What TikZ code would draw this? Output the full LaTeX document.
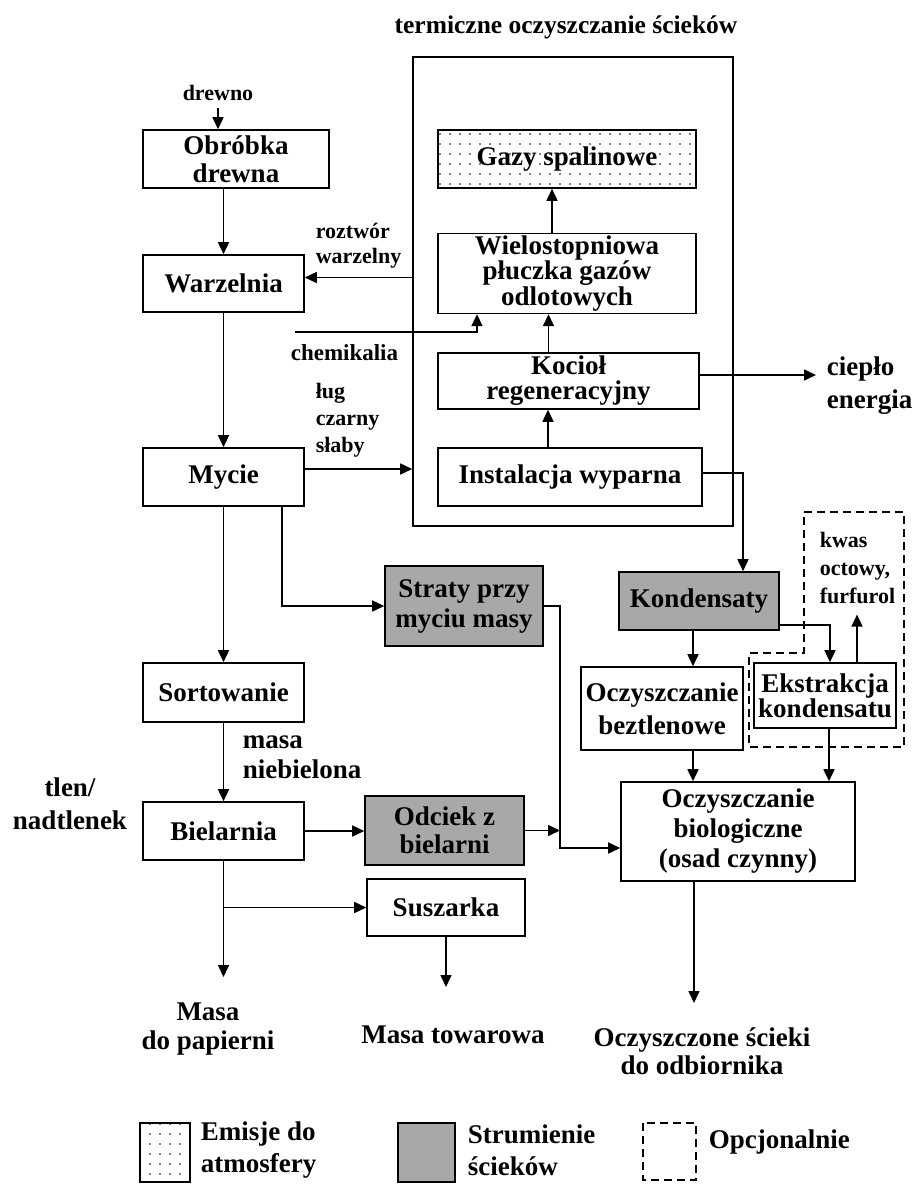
\documentclass[tikz,border=0pt]{standalone}
\usepackage{fontspec}
\setmainfont{Liberation Serif}
\usetikzlibrary{arrows.meta,patterns.meta}
\definecolor{sewgray}{RGB}{168,168,168}
\newcommand\boxfont[1][28]{\fontsize{27}{#1}\selectfont\bfseries}
\newcommand\lblfont[1][26]{\fontsize{22}{#1}\selectfont\bfseries}
\begin{document}
\begin{tikzpicture}[x=1pt, y=-1pt, line width=1.6pt,
  box/.style={draw, align=center, inner sep=2pt, font=\boxfont},
  waste/.style={box, fill=sewgray},
  emis/.style={box, pattern={Dots[distance=10pt,radius=0.8pt]}},
  lbl/.style={align=left, inner sep=0pt, font=\lblfont},
  result/.style={align=center, inner sep=0pt, font=\boxfont},
  arr/.style={-{Triangle[length=12pt,width=11pt]}}]
\useasboundingbox (0,0) rectangle (916,1184);
\node[result, font={\fontsize{25.5}{27}\selectfont\bfseries}] (title) at (566,27) {termiczne oczyszczanie ścieków};
\node[draw, minimum width=320pt, minimum height=469pt] (frame) at (573,291.5) {};
\node[box, minimum width=186pt, minimum height=58pt] (obrobka) at (236,159) {Obróbka\\drewna};
\node[box, minimum width=161pt, minimum height=57pt] (warzelnia) at (223.5,283.5) {Warzelnia};
\node[box, minimum width=161pt, minimum height=58pt] (mycie) at (223.5,477) {Mycie};
\node[box, minimum width=161pt, minimum height=59pt] (sort) at (223.5,692.5) {Sortowanie};
\node[box, minimum width=161pt, minimum height=58pt] (biel) at (223.5,831) {Bielarnia};
\node[emis, minimum width=258pt, minimum height=58pt] (gazy) at (567,159) {Gazy spalinowe};
\node[box, minimum width=258pt, minimum height=79pt, font={\boxfont[24]}] (wielo) at (567,273.5) {Wielostopniowa\\płuczka gazów\\odlotowych};
\node[box, minimum width=261pt, minimum height=56pt, font={\boxfont[25]}] (kociol) at (568.5,381) {Kocioł\\regeneracyjny};
\node[box, minimum width=264pt, minimum height=58pt] (wyparna) at (570,477) {Instalacja wyparna};
\node[waste, minimum width=158pt, minimum height=80pt, font={\boxfont[30]}] (straty) at (464,606) {Straty przy\\myciu masy};
\node[waste, minimum width=159pt, minimum height=69pt] (odciek) at (444.5,830.5) {Odciek z\\bielarni};
\node[box, minimum width=158pt, minimum height=57pt] (susz) at (446,907.5) {Suszarka};
\node[waste, minimum width=160pt, minimum height=58pt] (kondens) at (699,601) {Kondensaty};
\node[box, minimum width=162pt, minimum height=83pt, font={\boxfont[33]}] (beztlen) at (662,708.5) {Oczyszczanie\\beztlenowe};
\node[box, minimum width=142pt, minimum height=65pt, inner sep=0pt, font={\boxfont[25]}] (ekstr) at (825,695.5) {Ekstrakcja\\kondensatu};
\node[box, minimum width=234pt, minimum height=99pt, font={\boxfont[30]}] (bio) at (738,831.5) {Oczyszczanie\\biologiczne\\(osad czynny)};
\node[lbl] (drewno) at (218,93) {drewno};
\node[lbl, anchor=west, font={\lblfont[25]}] (roztwor) at (315,246) {roztwór\\warzelny};
\node[lbl, anchor=west, font={\fontsize{23}{25}\selectfont\bfseries}] (chemlbl) at (290,353) {chemikalia};
\node[lbl, anchor=west, font={\lblfont[27]}] (lug) at (315,420) {ług\\czarny\\słaby};
\node[lbl, anchor=west, font={\boxfont[30]}] (masaN) at (242,757) {masa\\niebielona};
\node[result, font={\boxfont[33]}] (tlen) at (70,804) {tlen/\\nadtlenek};
\node[lbl, anchor=west, font={\boxfont[33]}] (cieplo) at (826,386) {ciepło\\energia};
\node[lbl, anchor=west, font={\lblfont[28]}] (kwas) at (819,568) {kwas\\octowy,\\furfurol};
\node[result, font={\boxfont[29]}] (papierni) at (208,1029) {Masa\\do papierni};
\node[result] (towarowa) at (453,1035) {Masa towarowa};
\node[result, font={\boxfont[28]}] (odbior) at (702,1051) {Oczyszczone ścieki\\do odbiornika};
\coordinate (chemIn) at (295,332);
\coordinate (merge) at (560,848);
\coordinate (papEnd) at (223.5,977);
\coordinate (towEnd) at (446,987);
\coordinate (bioEnd) at (694,1003);
\draw[arr, shorten <=6pt] (drewno.south) -- (drewno.south |- obrobka.north);
\draw[arr] (obrobka.south -| warzelnia.north) -- (warzelnia.north);
\draw[arr] (warzelnia) -- (mycie);
\draw[arr] (mycie) -- (sort);
\draw[arr] (sort) -- (biel);
\draw[arr] (biel.south) -- (papEnd);
\draw[arr] (biel.south |- susz.west) -- (susz.west);
\draw[arr] (susz.south) -- (towEnd);
\draw[arr] (biel.east) -- (biel.east -| odciek.west);
\draw[arr] (odciek.east) -- (odciek.east -| merge);
\draw[arr] (straty.east) -| (merge) -- (merge -| bio.west);
\draw[arr] ([xshift=58.5pt]mycie.south) |- (straty.west);
\draw[arr] ([yshift=8pt]mycie.east) -- ([yshift=8pt]mycie.east -| frame.west);
\draw[arr] ([yshift=6pt]frame.west |- warzelnia.east) -- ([yshift=6pt]warzelnia.east);
\draw[arr] (chemIn) -| ([xshift=-90pt]wielo.south);
\draw[arr] ([xshift=-20pt]kociol.north) -- ([xshift=-20pt]kociol.north |- wielo.south);
\draw[arr] ([xshift=-15pt]wielo.north) -- ([xshift=-15pt]wielo.north |- gazy.south);
\draw[arr] ([xshift=-22pt]wyparna.north) -- ([xshift=-22pt]wyparna.north |- kociol.south);
\draw[arr, shorten >=10pt] ([yshift=6pt]kociol.east) -- ([yshift=6pt]kociol.east -| cieplo.west);
\draw[arr] ([yshift=4pt]wyparna.east) -| ([xshift=44pt]kondens.north);
\draw[arr] ([xshift=-6pt]kondens.south) -- ([xshift=-6pt]kondens.south |- beztlen.north);
\draw[arr] ([yshift=-24pt]kondens.east) -| ([xshift=5pt]ekstr.north);
\draw[arr, shorten >=10pt] ([xshift=32pt]ekstr.north) -- ([xshift=32pt]ekstr.north |- kwas.south);
\draw[arr] ([xshift=31pt]beztlen.south) -- ([xshift=31pt]beztlen.south |- bio.north);
\draw[arr] ([xshift=4pt]ekstr.south) -- ([xshift=4pt]ekstr.south |- bio.north);
\draw[arr] ([xshift=-44pt]bio.south) -- (bioEnd);
\draw[dash pattern=on 8pt off 5pt] (804,512) -- (904,512) -- (904,747) -- (749,747) -- (749,653) -- (804,653) -- cycle;
\draw[pattern={Dots[distance=10pt,radius=0.8pt]}] (140,1123) rectangle (190,1182);
\draw[fill=sewgray] (398,1123) rectangle (455,1182);
\draw[dash pattern=on 8pt off 5pt] (643,1123) rectangle (696,1180);
\node[lbl, anchor=west, font={\boxfont[32]}] (emislbl) at (200,1150) {Emisje do\\atmosfery};
\node[lbl, anchor=west, font={\boxfont[32]}] (wastelbl) at (467,1150) {Strumienie\\ścieków};
\node[lbl, anchor=west, font=\boxfont] (optlbl) at (708,1142) {Opcjonalnie};
\end{tikzpicture}
\end{document}
